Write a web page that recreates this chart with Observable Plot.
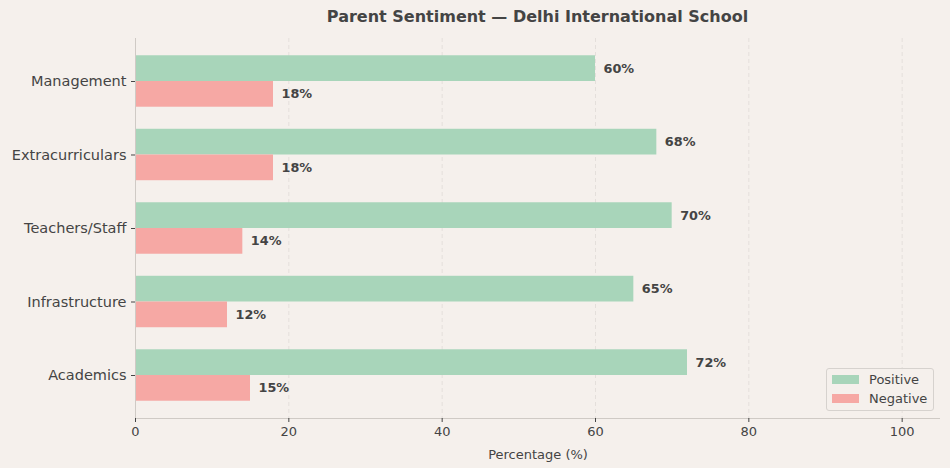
<!DOCTYPE html>
<html>
<head>
<meta charset="utf-8">
<script src="https://cdn.jsdelivr.net/npm/d3@7"></script>
<script src="https://cdn.jsdelivr.net/npm/@observablehq/plot@0.6"></script>
<style>
  html, body { margin: 0; padding: 0; background: #f5f0ec; }
  #wrap { position: relative; width: 950px; height: 468px; font-family: "DejaVu Sans", sans-serif; color: #444; }
  #title { position: absolute; left: 135px; width: 805px; top: 7px; text-align: center; font-weight: bold; font-size: 16px; color: #444; }
  #legend { position: absolute; left: 826px; top: 368px; width: 108px; height: 43px; border: 1px solid #d6d2ce; border-radius: 3px; background: rgba(245,240,236,0.85); font-size: 13px; color: #444; box-sizing: border-box; }
  .li { position: absolute; left: 5px; display: flex; align-items: center; }
  .sw { width: 27px; height: 9px; margin-right: 10px; }
</style>
</head>
<body>
<div id="wrap">
  <div id="chart"></div>
  <div id="title">Parent Sentiment — Delhi International School</div>
  <div id="legend">
    <div class="li" style="top:3px"><div class="sw" style="background:#a8d5ba"></div>Positive</div>
    <div class="li" style="top:22px"><div class="sw" style="background:#f6a8a4"></div>Negative</div>
  </div>
</div>
<script>
const categories = ["Academics", "Infrastructure", "Teachers/Staff", "Extracurriculars", "Management"];
const positive = [72, 65, 70, 68, 60];
const negative = [15, 12, 14, 18, 18];
const xTicks = [0, 20, 40, 60, 80, 100];

const rows = categories.map((c, i) => ({cat: c, i, pos: positive[i], neg: negative[i]}));
const bw = 0.35;
const green = "#a8d5ba", red = "#f6a8a4", ink = "#444";

const chart = Plot.plot({
  width: 950,
  height: 468,
  marginLeft: 135,
  marginRight: 10,
  marginTop: 38,
  marginBottom: 50,
  style: {background: "transparent", fontFamily: "DejaVu Sans, sans-serif", color: ink},
  x: {domain: [0, 105]},
  y: {domain: [-0.585, 4.585]},
  marks: [
    Plot.gridX(xTicks, {stroke: "#e4dfdb", strokeOpacity: 1, strokeDasharray: "4,3"}),
    Plot.rect(rows, {x1: 0, x2: "pos", y1: d => d.i, y2: d => d.i + bw, fill: green}),
    Plot.rect(rows, {x1: 0, x2: "neg", y1: d => d.i - bw, y2: d => d.i, fill: red}),
    Plot.text(rows, {x: "pos", y: d => d.i + bw / 2, text: d => d.pos + "%", textAnchor: "start", dx: 8, fontWeight: "bold", fontSize: 12.8, fill: ink}),
    Plot.text(rows, {x: "neg", y: d => d.i - bw / 2, text: d => d.neg + "%", textAnchor: "start", dx: 8, fontWeight: "bold", fontSize: 12.8, fill: ink}),
    Plot.ruleX([0], {stroke: "#cfcac5"}),
    Plot.ruleY([-0.585], {stroke: "#cfcac5"}),
    Plot.axisX(xTicks, {tickSize: 4, tickPadding: 4, fontSize: 13, stroke: ink, color: ink, label: "Percentage (%)", labelAnchor: "center", labelArrow: "none", labelOffset: 40}),
    Plot.axisY(categories.map((c, i) => i), {tickSize: 4, tickPadding: 5, fontSize: 14.5, stroke: ink, tickFormat: i => categories[i], label: null})
  ]
});
document.getElementById("chart").appendChild(chart);
</script>
</body>
</html>
